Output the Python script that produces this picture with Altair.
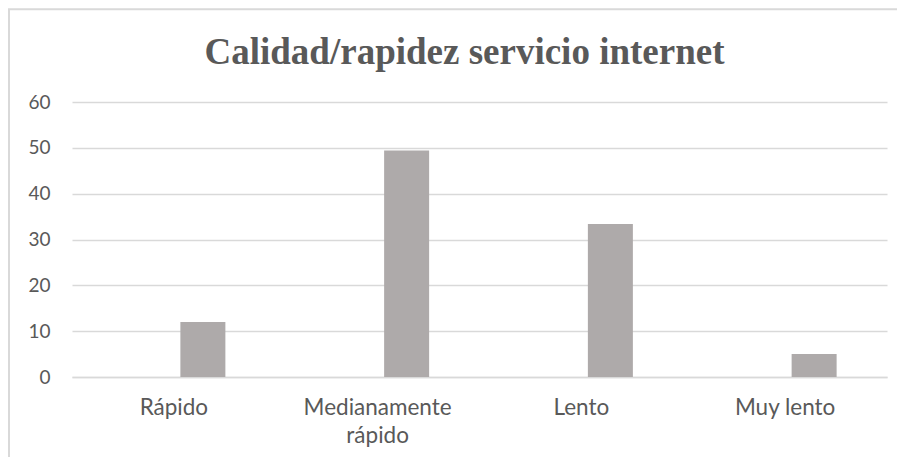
import altair as alt
import pandas as pd

categories = ["Rápido", "Medianamente rápido", "Lento", "Muy lento"]
values = [12, 49.4, 33.4, 5]
y_ticks = [0, 10, 20, 30, 40, 50, 60]
title_text = "Calidad/rapidez servicio internet"

df = pd.DataFrame({"categoria": categories, "valor": values})

x_enc = alt.X(
    "categoria:N",
    sort=categories,
    title=None,
    scale=alt.Scale(paddingInner=0, paddingOuter=0),
    axis=alt.Axis(
        labelAngle=0,
        labelFont="Lato",
        labelFontSize=22.5,
        labelColor="#595959",
        labelPadding=19,
        labelLineHeight=28,
        labelExpr="length(datum.label) > 12 ? split(datum.label, ' ') : datum.label",
        ticks=False,
        domain=True,
        domainColor="#D9D9D9",
        domainWidth=1.5,
        grid=False,
    ),
)

y_enc = alt.Y(
    "valor:Q",
    title=None,
    scale=alt.Scale(domain=[0, 60], nice=False),
    axis=alt.Axis(
        values=y_ticks,
        labelFont="Lato",
        labelFontSize=19,
        labelColor="#595959",
        labelPadding=22,
        ticks=False,
        domain=False,
        grid=True,
        gridColor="#D9D9D9",
        gridWidth=1.5,
    ),
)

bars = alt.Chart(df).mark_bar(size=45, xOffset=29, color="#AEAAAA").encode(
    x=x_enc, y=y_enc
)

border_df = pd.DataFrame({"b": [0]})
border = alt.Chart(border_df).mark_rect(
    fill=None, stroke="#D9D9D9", strokeWidth=2
).encode(
    x=alt.value(-63),
    y=alt.value(-92.7),
    x2=alt.value(1000),
    y2=alt.value(600),
)

chart = alt.layer(border, bars).properties(
    width=815,
    height=275,
    autosize=alt.AutoSizeParams(type="none"),
    padding={"left": 64, "top": 94, "right": 10, "bottom": 80},
    title=alt.TitleParams(
        text=title_text,
        font="Liberation Serif",
        fontSize=37,
        fontWeight="bold",
        color="#595959",
        anchor="middle",
        frame="group",
        baseline="alphabetic",
        offset=-93,
        dx=-15,
    ),
).configure_view(stroke=None)

chart.save("out.html", embed_options={"renderer": "svg", "actions": False})
